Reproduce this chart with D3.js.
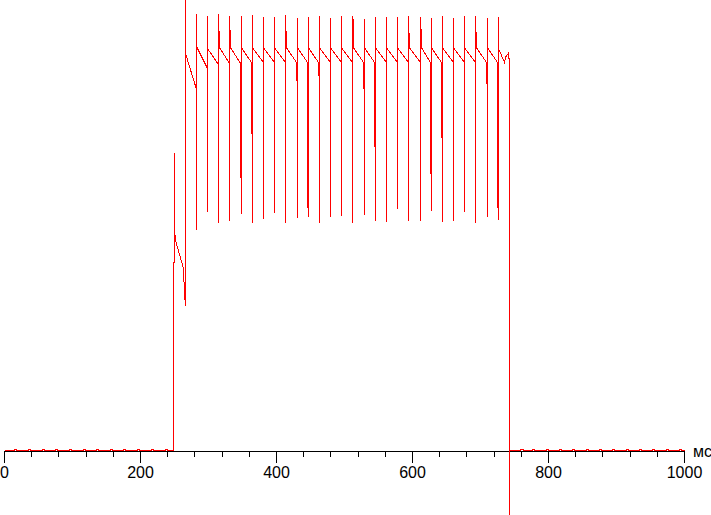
<!DOCTYPE html>
<html>
<head>
<meta charset="utf-8">
<script src="https://cdn.jsdelivr.net/npm/d3@7"></script>
<style>
html, body { margin: 0; padding: 0; background: #fff; }
svg { display: block; }
</style>
</head>
<body>
<svg id="chart"></svg>
<script>
// time axis (ms)
var majorTicks = [0, 200, 400, 600, 800, 1000];
var minorTicks = [0, 40, 80, 120, 160, 200, 240, 280, 320, 360, 400, 440, 480,
                  520, 560, 600, 640, 680, 720, 760, 800, 840, 880, 920, 960, 1000];
var unitLabel = "мс";

// tiny ripple blips on the dark level
var blipMs = [16, 37, 57, 77, 97, 117, 137, 157, 177, 197, 217, 238,
              761, 778, 798, 818, 837, 857, 876, 896, 916, 935, 955, 975, 994];
var blipLevel = 0.25;

// switch-on transient
var onsetMs    = [248.5, 248.5, 250.0, 250.0, 250.0, 251.5, 263.2, 264.7, 266.2, 266.2, 266.2];
var onsetLevel = [0,     47,    47,    74.5,  55.25, 52.5,  45.5,  39.25, 36.25, 115,   99.25];

// steady pulses
var pulseMs = [282.4, 298.5, 314.7, 330.9, 348.5, 364.7, 380.9, 397.1, 413.2, 430.9,
               447.1, 463.2, 479.4, 495.6, 511.8, 529.4, 545.6, 561.8, 577.9, 594.1,
               611.8, 627.9, 644.1, 660.3, 676.5, 692.6, 710.3, 726.5];
var pulseHigh = [109.2, 108.75, 109.2, 108.6, 108.75, 109, 108.5, 108.5, 109, 108.2,
                 108.5, 108.75, 108.2, 108.75, 108.75, 107.9, 108.5, 108.5, 108.5, 108.75,
                 108.5, 108.2, 108.75, 108.2, 108.75, 108.75, 108.2, 108.5];
var pulseLow = [55.25, 59.6, 56.8, 57.5, 59.1, 56.8, 58, 59.3, 56.8, 58.1,
                58.3, 56.8, 58.3, 58.6, 56.8, 58.8, 57.5, 57.1, 60.4, 57.3,
                57.3, 59.8, 57.1, 57.5, 59.6, 56.8, 58.3, 57.75];
var pulseDip = [null, null, null, null, 68.25, 79.25, null, null, null, 92.5,
                60.75, 93.75, null, null, null, 90.5, 76, null, null, null,
                null, 69.25, 78.25, null, null, null, 91.75, 60.75];
var pulseRebound = [null, null, 104.75, 105, null, null, null, null, 104.75, null,
                    null, null, null, null, 107.75, null, null, null, null, 104.25,
                    105.25, null, null, null, null, 104.5, null, null];
var levelBefore = [90.25, 95.5, 96.5, 96.8, 96.8, 97, 97, 97, 97, 97,
                   97, 97, 97, 97, 97, 97, 97, 97, 97, 97,
                   97, 97, 97, 97, 97, 97, 97, 97];
var levelAfter = [101, 100.5, 100.7, 100.7, 100.7, 100.7, 100.7, 100.7, 100.7, 100.7,
                  100.7, 100.7, 100.7, 100.7, 100.7, 100.7, 100.7, 100.7, 100.7, 100.7,
                  100.7, 100.7, 100.7, 100.7, 100.7, 100.7, 100.7, 100.5];

// switch-off
var tailMs    = [735.3, 736.8, 741.2, 742.6, 742.6, 742.6, 744.1];
var tailLevel = [97,    98.3,  99.3,  96.8,  -20,   0,     0];

var width = 711, height = 515;

var svg = d3.select('#chart')
    .attr('width', width)
    .attr('height', height);

svg.append('rect')
    .attr('width', width)
    .attr('height', height)
    .attr('fill', '#fff');

var x = d3.scaleLinear().domain([0, 1000]).range([4, 684]);
var y = d3.scaleLinear().domain([0, 100]).range([450, 50]);

// build the trace from the arrays
function blips(from, to, pts) {
  blipMs.forEach(function(t) {
    if (t > from && t < to) {
      pts.push([t - 1.5, 0], [t - 1.5, blipLevel], [t + 1.5, blipLevel], [t + 1.5, 0]);
    }
  });
}

var trace = [[0, 0]];
blips(0, onsetMs[0], trace);
onsetMs.forEach(function(t, i) { trace.push([t, onsetLevel[i]]); });
pulseMs.forEach(function(t, i) {
  if (pulseDip[i] != null) {
    trace.push([t - 1.5, levelBefore[i]], [t - 1.5, pulseDip[i]], [t - 1.5, levelBefore[i]]);
  }
  trace.push([t, levelBefore[i]], [t, pulseLow[i]], [t, pulseHigh[i]], [t, levelAfter[i]]);
  if (pulseRebound[i] != null) {
    trace.push([t + 1.47, pulseRebound[i]], [t + 1.5, levelAfter[i]]);
  }
});
tailMs.forEach(function(t, i) { trace.push([t, tailLevel[i]]); });
blips(tailMs[tailMs.length - 1], 1000, trace);
trace.push([1000, 0]);

var line = d3.line()
    .x(d => x(d[0]))
    .y(d => y(d[1]));

// axes
var axisG = svg.append('g')
    .attr('transform', 'translate(0,451)');

axisG.append('g')
    .call(d3.axisBottom(x).tickValues(minorTicks).tickSize(6).tickSizeOuter(0).tickFormat(''))
    .call(g => g.select('.domain').remove());

axisG.append('g')
    .call(d3.axisBottom(x).tickValues(majorTicks).tickSize(12).tickSizeOuter(0)
      .tickPadding(4).tickFormat(d3.format('d')))
    .attr('font-family', '"Liberation Sans", Arial, sans-serif')
    .attr('font-size', 16);

axisG.selectAll('line, path')
    .attr('stroke', '#000')
    .attr('shape-rendering', 'crispEdges');
axisG.selectAll('text').attr('fill', '#000');

svg.append('text')
    .attr('x', 693)
    .attr('y', 457)
    .attr('font-family', '"Liberation Sans", Arial, sans-serif')
    .attr('font-size', 16)
    .attr('fill', '#000')
    .text(unitLabel);

svg.append('path')
    .datum(trace)
    .attr('transform', 'translate(0.5,0.5)')
    .attr('fill', 'none')
    .attr('stroke', '#f00')
    .attr('stroke-width', 1)
    .attr('shape-rendering', 'crispEdges')
    .attr('d', line);
</script>
</body>
</html>
